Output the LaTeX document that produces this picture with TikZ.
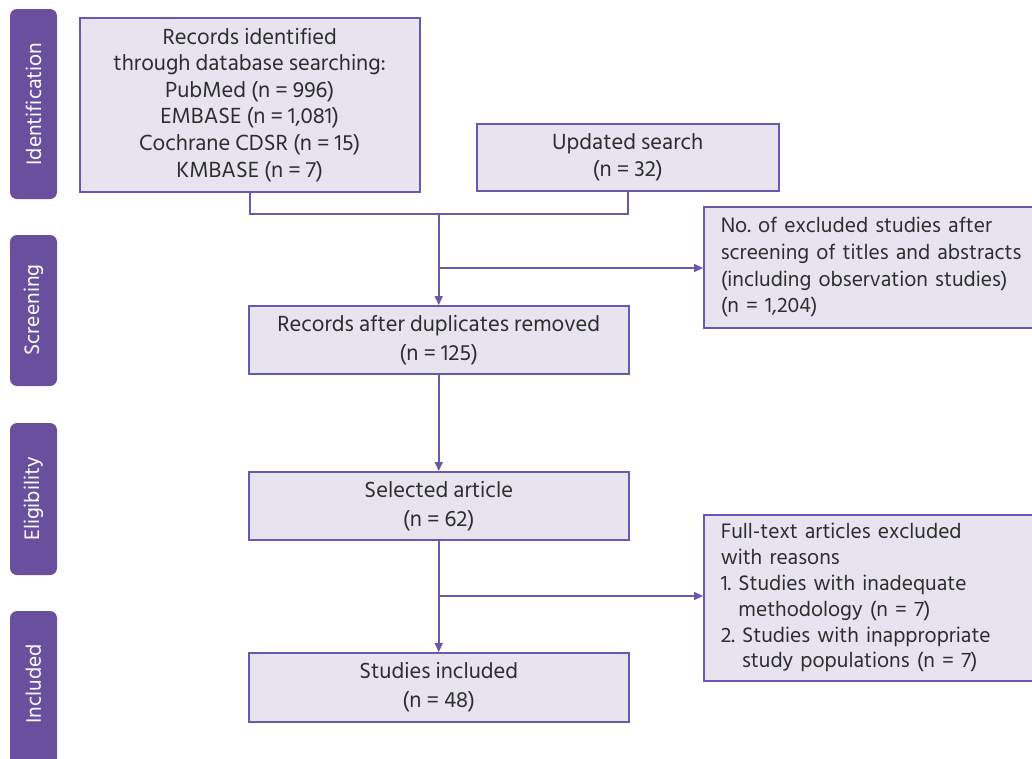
\documentclass[tikz,border=0pt]{standalone}
\usepackage{fontspec}
\setmainfont{Hind Siliguri}
\usetikzlibrary{arrows.meta}
\definecolor{lab}{HTML}{68509E}
\definecolor{boxfill}{HTML}{E7E3EF}
\definecolor{boxline}{HTML}{6A58AC}
\definecolor{txt}{HTML}{2E2E2E}
\frenchspacing
\begin{document}
\begin{tikzpicture}[x=1pt,y=-1pt,
  box/.style={draw=boxline, fill=boxfill, line width=1.5pt, inner sep=0pt, anchor=north west, align=center, text=txt, font=\fontsize{22.5}{26.6}\selectfont},
  rbox/.style={box, align=left, inner xsep=17pt, font=\fontsize{21.5}{26.6}\selectfont},
  mbox/.style={box, font=\fontsize{22.5}{29}\selectfont},
  stage/.style={fill=lab, rounded corners=7pt},
  stagetext/.style={text=white, rotate=90, font=\fontsize{21.5}{22}\selectfont},
  conn/.style={draw=boxline, line width=1.5pt},
  arr/.style={conn, -{Triangle[length=9pt,width=8pt]}}]
\useasboundingbox (0,0) rectangle (1032,758);

% stage labels
\path[stage] (10,9) rectangle (57,199);
\node[stagetext] (sid) at (33.5,104) {Identification};
\path[stage] (10,235) rectangle (57,386);
\node[stagetext] (ssc) at (33.5,310) {Screening};
\path[stage] (10,423) rectangle (57,575);
\node[stagetext] (sel) at (33.5,499) {Eligibility};
\path[stage] (10,611) rectangle (57,790);
\node[stagetext] (sin) at (33.5,684) {Included};

% boxes
\node[box, minimum width=340pt, minimum height=174pt] (rec) at (79,17)
  {Records identified\\through database searching:\\PubMed (n = 996)\\EMBASE (n = 1,081)\\Cochrane CDSR (n = 15)\\KMBASE (n = 7)};
\node[box, minimum width=302pt, minimum height=67pt, font=\fontsize{22.5}{27}\selectfont] (upd) at (476,123)
  {Updated search\\(n = 32)};
\node[rbox, minimum width=340pt, minimum height=121pt, text width=330pt] (ex1) at (703,206)
  {No. of excluded studies after\\screening of titles and abstracts\\(including observation studies)\\(n = 1,204)};
\node[mbox, minimum width=380pt, minimum height=68pt] (dup) at (248,305)
  {Records after duplicates removed\\(n = 125)};
\node[mbox, minimum width=380pt, minimum height=68pt] (sela) at (248,471)
  {Selected article\\(n = 62)};
\node[rbox, minimum width=340pt, minimum height=166pt, text width=330pt, font=\fontsize{21.5}{25.8}\selectfont] (ex2) at (703,514)
  {Full-text articles excluded\\with reasons\\1. Studies with inadequate\\\phantom{1. }methodology (n = 7)\\2. Studies with inappropriate\\\phantom{2. }study populations (n = 7)};
\node[mbox, minimum width=380pt, minimum height=69pt] (inc) at (248,652)
  {Studies included\\(n = 48)};

% connectors
\coordinate (j) at (dup.north |- 0,214);
\coordinate (b1) at (dup.north |- 0,268);
\coordinate (b2) at (sela.south |- 0,596);
\draw[conn] (rec.south) |- (j) -| (upd.south);
\draw[arr] (j) -- (dup.north);
\draw[arr] (b1) -- (b1 -| ex1.west);
\draw[arr] (dup.south) -- (sela.north);
\draw[arr] (sela.south) -- (inc.north);
\draw[arr] (b2) -- (b2 -| ex2.west);
\end{tikzpicture}
\end{document}
